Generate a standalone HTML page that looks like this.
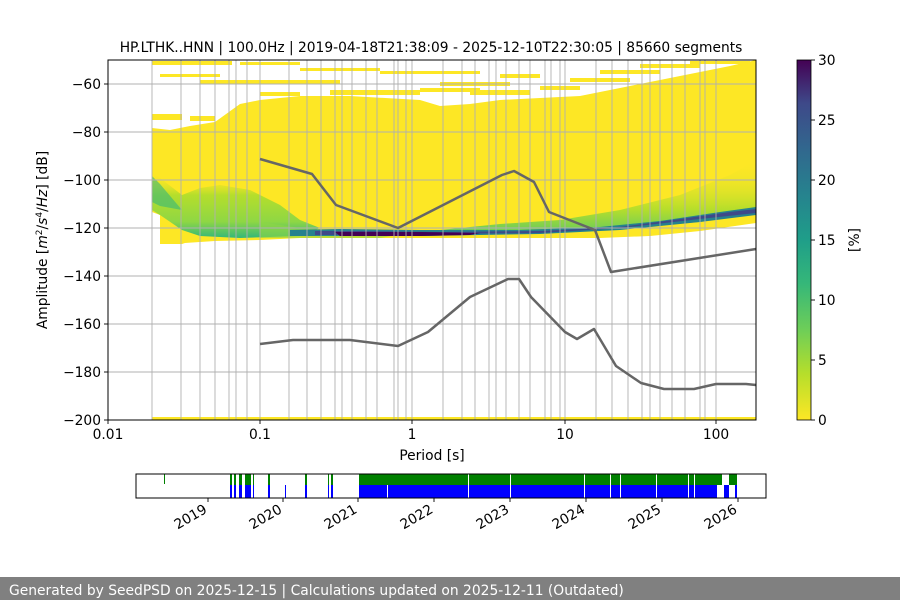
<!DOCTYPE html>
<html><head><meta charset="utf-8"><style>
body{margin:0;background:#fff;width:900px;height:600px;overflow:hidden;font-family:"Liberation Sans","DejaVu Sans",sans-serif}
svg text{font-family:"DejaVu Sans","Liberation Sans",sans-serif}
</style></head><body>
<svg width="900" height="600" viewBox="0 0 900 600" xmlns="http://www.w3.org/2000/svg">
<defs>
<linearGradient id="cb" x1="0" y1="1" x2="0" y2="0">
<stop offset="0" stop-color="#fde725"/><stop offset="0.13" stop-color="#b5de2b"/><stop offset="0.25" stop-color="#6ece58"/><stop offset="0.38" stop-color="#35b779"/><stop offset="0.5" stop-color="#1f9e89"/><stop offset="0.63" stop-color="#26828e"/><stop offset="0.75" stop-color="#31688e"/><stop offset="0.88" stop-color="#3e4989"/><stop offset="1" stop-color="#440154"/>
</linearGradient>
<linearGradient id="hump" x1="0" y1="0" x2="0" y2="1">
<stop offset="0" stop-color="#fde725" stop-opacity="0"/><stop offset="0.35" stop-color="#b5de2b"/><stop offset="0.75" stop-color="#8fd744"/><stop offset="1" stop-color="#35b779"/>
</linearGradient>
<linearGradient id="rg" x1="0" y1="0" x2="0" y2="1">
<stop offset="0" stop-color="#fde725" stop-opacity="0"/><stop offset="0.65" stop-color="#b5de2b"/><stop offset="1" stop-color="#5ec962"/>
</linearGradient>
<clipPath id="pa"><rect x="108" y="60" width="648" height="360"/></clipPath>
</defs>
<g clip-path="url(#pa)">
<polygon fill="#fde725" points="152,128 170,130 190,126 215,122 240,104 260,100 300,96 350,96 420,100 440,106 470,104 500,100 540,98 580,96 620,88 660,80 700,72 730,66 756,60 756,223 700,231 650,236 600,238 500,238 400,238 300,238 260,240 215,241 185,243 182,244 160,244 160,215 152,212"/>
<g fill="#fde725">
<rect x="152" y="61" width="80" height="4"/><rect x="240" y="62" width="60" height="3"/><rect x="160" y="74" width="60" height="3"/><rect x="200" y="80" width="140" height="4"/><rect x="300" y="68" width="80" height="3"/><rect x="380" y="71" width="100" height="3"/><rect x="330" y="90" width="90" height="5"/><rect x="440" y="82" width="70" height="4"/><rect x="470" y="90" width="60" height="5"/><rect x="540" y="86" width="40" height="4"/><rect x="570" y="78" width="60" height="4"/><rect x="600" y="70" width="60" height="4"/><rect x="640" y="64" width="60" height="4"/><rect x="690" y="61" width="60" height="3"/><rect x="152" y="114" width="30" height="6"/><rect x="420" y="88" width="60" height="4"/><rect x="500" y="74" width="40" height="4"/><rect x="260" y="92" width="40" height="4"/><rect x="190" y="116" width="25" height="5"/>
</g>
<polygon fill="url(#hump)" points="152,172 160,178 182,195 200,188 220,185 250,190 280,205 300,220 320,228 300,236 240,238 200,236 182,230 160,215 152,210"/>
<polygon fill="#35b779" opacity="0.6" points="152,176 160,184 182,210 160,206 152,202"/>
<polygon fill="url(#rg)" points="420,232 500,224 560,220 620,210 680,195 730,175 756,160 756,212 700,222 620,228 500,234 420,236"/>
<polygon fill="#8fd744" opacity="0.6" points="260,222 300,228 330,230 420,231 380,238 300,238 260,238"/>
<polygon fill="#26828e" points="290,230 340,229 420,230 520,230 600,227 660,221 720,212 756,207 756,215 700,222 620,230 540,234 420,236 330,236 290,236"/>
<polygon fill="#3e4989" points="315,231 360,231 440,232 540,231 620,227 680,219 730,212 756,209 756,213 700,219 620,228 540,233 440,234 360,235 315,235"/>
<polygon fill="#440154" points="335,232 420,232 480,233 470,235 420,236 340,236"/>
<rect x="152" y="417" width="604" height="3" fill="#fde725"/>
</g>
<g stroke="#b0b0b0" stroke-width="0.9">
<line x1="108" y1="84" x2="756" y2="84"/><line x1="108" y1="132" x2="756" y2="132"/><line x1="108" y1="180" x2="756" y2="180"/><line x1="108" y1="228" x2="756" y2="228"/><line x1="108" y1="276" x2="756" y2="276"/><line x1="108" y1="324" x2="756" y2="324"/><line x1="108" y1="372" x2="756" y2="372"/>
<line x1="152" y1="60" x2="152" y2="420"/><line x1="181" y1="60" x2="181" y2="420"/><line x1="200" y1="60" x2="200" y2="420"/><line x1="215" y1="60" x2="215" y2="420"/><line x1="229" y1="60" x2="229" y2="420"/><line x1="236" y1="60" x2="236" y2="420"/><line x1="247" y1="60" x2="247" y2="420"/><line x1="260" y1="60" x2="260" y2="420"/><line x1="289" y1="60" x2="289" y2="420"/><line x1="307" y1="60" x2="307" y2="420"/><line x1="321" y1="60" x2="321" y2="420"/><line x1="335" y1="60" x2="335" y2="420"/><line x1="342" y1="60" x2="342" y2="420"/><line x1="352" y1="60" x2="352" y2="420"/><line x1="366" y1="60" x2="366" y2="420"/><line x1="377" y1="60" x2="377" y2="420"/><line x1="394" y1="60" x2="394" y2="420"/><line x1="398" y1="60" x2="398" y2="420"/><line x1="406" y1="60" x2="406" y2="420"/><line x1="412" y1="60" x2="412" y2="420"/><line x1="443" y1="60" x2="443" y2="420"/><line x1="462" y1="60" x2="462" y2="420"/><line x1="475" y1="60" x2="475" y2="420"/><line x1="489" y1="60" x2="489" y2="420"/><line x1="496" y1="60" x2="496" y2="420"/><line x1="506" y1="60" x2="506" y2="420"/><line x1="519" y1="60" x2="519" y2="420"/><line x1="530" y1="60" x2="530" y2="420"/><line x1="545" y1="60" x2="545" y2="420"/><line x1="551" y1="60" x2="551" y2="420"/><line x1="560" y1="60" x2="560" y2="420"/><line x1="565" y1="60" x2="565" y2="420"/><line x1="596" y1="60" x2="596" y2="420"/><line x1="612" y1="60" x2="612" y2="420"/><line x1="628" y1="60" x2="628" y2="420"/><line x1="642" y1="60" x2="642" y2="420"/><line x1="650" y1="60" x2="650" y2="420"/><line x1="660" y1="60" x2="660" y2="420"/><line x1="672" y1="60" x2="672" y2="420"/><line x1="685" y1="60" x2="685" y2="420"/><line x1="700" y1="60" x2="700" y2="420"/><line x1="705" y1="60" x2="705" y2="420"/><line x1="716" y1="60" x2="716" y2="420"/>
</g>
<g fill="none" stroke="#666" stroke-width="2.5" stroke-linejoin="round">
<polyline points="260,159 312,174 336,205 398,228 502,175 514,171 534,182 549,212 595,230 611,272 756,249"/>
<polyline points="260,344 293,340 350,340 398,346 428,332 470,297 508,279 519,279 531,297 565,332 577,339 594,329 616,366 641,383 664,389 694,389 716,384 746,384 756,385"/>
</g>
<rect x="108" y="60" width="648" height="360" fill="none" stroke="#000" stroke-width="1"/>
<g stroke="#000" stroke-width="0.9">
<line x1="104" y1="84" x2="108" y2="84"/><line x1="104" y1="132" x2="108" y2="132"/><line x1="104" y1="180" x2="108" y2="180"/><line x1="104" y1="228" x2="108" y2="228"/><line x1="104" y1="276" x2="108" y2="276"/><line x1="104" y1="324" x2="108" y2="324"/><line x1="104" y1="372" x2="108" y2="372"/><line x1="104" y1="420" x2="108" y2="420"/>
<line x1="108" y1="420" x2="108" y2="424"/><line x1="260" y1="420" x2="260" y2="424"/><line x1="412" y1="420" x2="412" y2="424"/><line x1="565" y1="420" x2="565" y2="424"/><line x1="716" y1="420" x2="716" y2="424"/>
</g>
<g font-size="13.8" fill="#000" text-anchor="end">
<text x="101" y="89">−60</text><text x="101" y="137">−80</text><text x="101" y="185">−100</text><text x="101" y="233">−120</text><text x="101" y="281">−140</text><text x="101" y="329">−160</text><text x="101" y="377">−180</text><text x="101" y="425">−200</text>
</g>
<g font-size="13.8" fill="#000" text-anchor="middle">
<text x="108" y="439">0.01</text><text x="260" y="439">0.1</text><text x="412" y="439">1</text><text x="565" y="439">10</text><text x="716" y="439">100</text>
<text x="432" y="460">Period [s]</text>
<text x="431" y="52">HP.LTHK..HNN | 100.0Hz | 2019-04-18T21:38:09 - 2025-12-10T22:30:05 | 85660 segments</text>
</g>
<text transform="translate(47,240) rotate(-90)" font-size="13.8" text-anchor="middle">Amplitude [<tspan font-style="italic">m</tspan><tspan baseline-shift="super" font-size="9">2</tspan>/<tspan font-style="italic">s</tspan><tspan baseline-shift="super" font-size="9">4</tspan>/<tspan font-style="italic">Hz</tspan>] [dB]</text>
<rect x="797" y="60" width="14" height="360" fill="url(#cb)" stroke="#000" stroke-width="0.8"/>
<g stroke="#000" stroke-width="0.9">
<line x1="811" y1="60" x2="815" y2="60"/><line x1="811" y1="120" x2="815" y2="120"/><line x1="811" y1="180" x2="815" y2="180"/><line x1="811" y1="240" x2="815" y2="240"/><line x1="811" y1="300" x2="815" y2="300"/><line x1="811" y1="360" x2="815" y2="360"/><line x1="811" y1="420" x2="815" y2="420"/>
</g>
<g font-size="13.8">
<text x="818" y="65">30</text><text x="818" y="125">25</text><text x="818" y="185">20</text><text x="818" y="245">15</text><text x="818" y="305">10</text><text x="818" y="365">5</text><text x="818" y="425">0</text>
</g>
<text transform="translate(859,240) rotate(-90)" font-size="13.8" text-anchor="middle">[%]</text>
<rect x="136" y="474" width="630" height="24" fill="#fff"/>
<g fill="#008000">
<rect x="164" y="474" width="1" height="10"/>
<rect x="230" y="474" width="2" height="11"/><rect x="234" y="474" width="2" height="11"/><rect x="239" y="474" width="3" height="11"/><rect x="245" y="474" width="6" height="11"/><rect x="253" y="474" width="1" height="11"/><rect x="268" y="474" width="2" height="11"/><rect x="305" y="474" width="2" height="11"/><rect x="328" y="474" width="1" height="11"/><rect x="331" y="474" width="2" height="11"/>
<rect x="359" y="474" width="363" height="11"/><rect x="729" y="474" width="8" height="11"/>
</g>
<g fill="#0000ff">
<rect x="230" y="485" width="2" height="13"/><rect x="234" y="485" width="2" height="13"/><rect x="239" y="485" width="3" height="13"/><rect x="245" y="485" width="6" height="13"/><rect x="253" y="485" width="1" height="13"/><rect x="268" y="485" width="2" height="13"/><rect x="285" y="485" width="1" height="13"/><rect x="305" y="485" width="2" height="13"/><rect x="328" y="485" width="1" height="13"/><rect x="331" y="485" width="2" height="13"/>
<rect x="359" y="485" width="357" height="13"/><rect x="716" y="485" width="1" height="13"/><rect x="724" y="485" width="5" height="13"/><rect x="735" y="485" width="2" height="13"/>
</g>
<g fill="#fff">
<rect x="387" y="485" width="1" height="13"/><rect x="468" y="474" width="1" height="24"/><rect x="510" y="474" width="1" height="24"/><rect x="584" y="474" width="1" height="24"/><rect x="610" y="474" width="1" height="24"/><rect x="620" y="474" width="1" height="24"/><rect x="656" y="474" width="1" height="24"/><rect x="688" y="474" width="1" height="24"/><rect x="694" y="474" width="1" height="24"/>
</g>
<rect x="136" y="474" width="630" height="24" fill="none" stroke="#000" stroke-width="1"/>
<g stroke="#000" stroke-width="0.9">
<line x1="208" y1="498" x2="208" y2="502"/><line x1="283" y1="498" x2="283" y2="502"/><line x1="358" y1="498" x2="358" y2="502"/><line x1="434" y1="498" x2="434" y2="502"/><line x1="510" y1="498" x2="510" y2="502"/><line x1="586" y1="498" x2="586" y2="502"/><line x1="662" y1="498" x2="662" y2="502"/><line x1="738" y1="498" x2="738" y2="502"/>
</g>
<g font-size="13.8" text-anchor="end">
<text transform="translate(208,512) rotate(-30)">2019</text><text transform="translate(283,512) rotate(-30)">2020</text><text transform="translate(358,512) rotate(-30)">2021</text><text transform="translate(434,512) rotate(-30)">2022</text><text transform="translate(510,512) rotate(-30)">2023</text><text transform="translate(586,512) rotate(-30)">2024</text><text transform="translate(662,512) rotate(-30)">2025</text><text transform="translate(738,512) rotate(-30)">2026</text>
</g>
<rect x="0" y="577" width="900" height="23" fill="#808080"/>
<text x="9" y="595" font-size="13.85" fill="#fff">Generated by SeedPSD on 2025-12-15 | Calculations updated on 2025-12-11 (Outdated)</text>
</svg>
</body></html>
